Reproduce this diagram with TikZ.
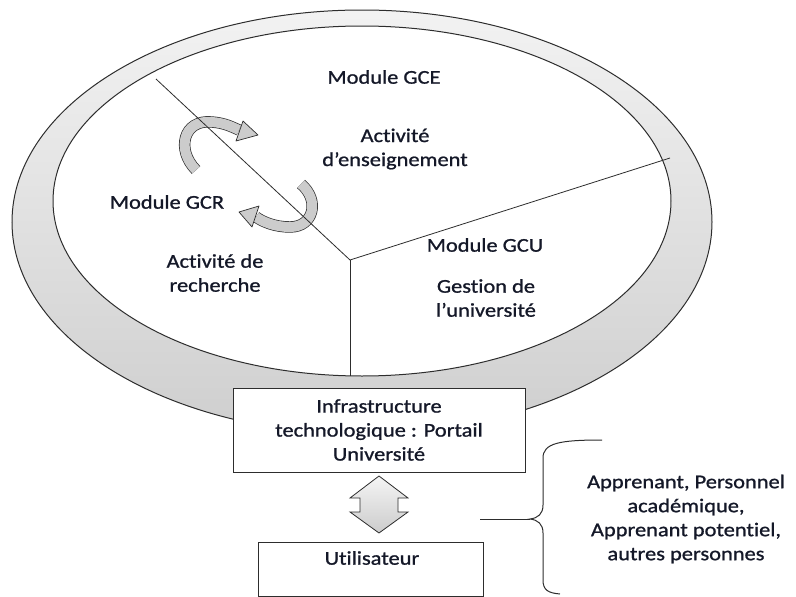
\documentclass[tikz,border=0pt]{standalone}
\usepackage{fontspec}
\setmainfont{Carlito}[FakeStretch=1.15, FakeBold=1, Ligatures=NoCommon]
\definecolor{txt}{RGB}{20,24,40}
\definecolor{ln}{RGB}{45,45,45}
\begin{document}
\begin{tikzpicture}[x=1pt,y=-1pt,
  lbl/.style={text=txt, font=\fontsize{19.5}{24}\selectfont, align=center, inner sep=0pt},
  ringline/.style={draw=ln, line width=1pt},
  box/.style={draw=ln, line width=1pt, fill=white, inner sep=0pt},
  div/.style={draw=ln, line width=0.8pt},
  curvy/.style={draw=ln, line width=0.7pt, double=gray!40, double distance=10pt},
  headfill/.style={draw=ln, line width=0.7pt, fill=gray!40, line join=round},
  thinline/.style={draw=ln, line width=1pt}]
\useasboundingbox (0,0) rectangle (796,597);
% ring
\coordinate (oc) at (362,222);
\coordinate (ic) at (362,201);
\path[ringline, top color=gray!10, bottom color=gray!38] (oc) ellipse [x radius=350pt, y radius=212pt];
\path[ringline, fill=white] (ic) ellipse [x radius=309pt, y radius=175pt];
\coordinate (ib) at (350,376);
% curved arrows
\draw[curvy] (196,170) .. controls (176,150) and (183,119) .. (212,122) .. controls (225,123) and (232,127) .. (239,130);
\draw[headfill] (236,141) -- (258,135) -- (243,121) -- cycle;
\draw[curvy] (301,184) .. controls (320,200) and (314,227) .. (290,227) .. controls (275,227) and (263,222) .. (256,217);
\draw[headfill] (259,206) -- (239,212) -- (252,227) -- cycle;
% dividers
\coordinate (j) at (350,260);
\coordinate (ul) at (156,79);
\coordinate (ur) at (670,158);
\draw[div] (ul) -- (j) -- (ur);
\draw[div] (j) -- (ib);
% texts
\node[lbl] (gce) at (384,77) {Module GCE};
\node[lbl] (ens) at (395,149) {Activité\\d’enseignement};
\node[lbl] (gcr) at (167,202) {Module GCR};
\node[lbl] (rech) at (215,273) {Activité de\\recherche};
\node[lbl] (gcu) at (485,245) {Module GCU};
\node[lbl] (gest) at (486,298) {Gestion de\\l’université};
% boxes
\node[box, lbl, minimum width=292pt, minimum height=84pt] (infra) at (379,430) {Infrastructure\\technologique : Portail\\Université};
\node[box, minimum width=225pt, minimum height=54pt] (util) at (370.5,569) {};
\node[lbl] (utxt) at (372,558) {Utilisateur};
% double arrow
\path[draw=ln, line width=0.8pt, top color=gray!8, bottom color=gray!40, line join=miter]
  (379,476) -- (408,498) -- (398,498) -- (398,512) -- (408,512) -- (379,533)
  -- (350,512) -- (360,512) -- (360,498) -- (350,498) -- cycle;
% brace
\coordinate (cusp) at (530,519);
\coordinate (lstart) at (480,519);
\draw[thinline] (602,440) .. controls (560,440) and (543,443) .. (543,458) -- (543,505)
  .. controls (543,514) and (538,518) .. (cusp)
  .. controls (538,520) and (543,524) .. (543,533) -- (543,580)
  .. controls (543,590) and (548,593) .. (560,594);
\draw[thinline] (lstart) -- (cusp);
\node[lbl] (users) at (686,519) {Apprenant, Personnel\\académique,\\Apprenant potentiel,\\autres personnes};
\end{tikzpicture}
\end{document}
